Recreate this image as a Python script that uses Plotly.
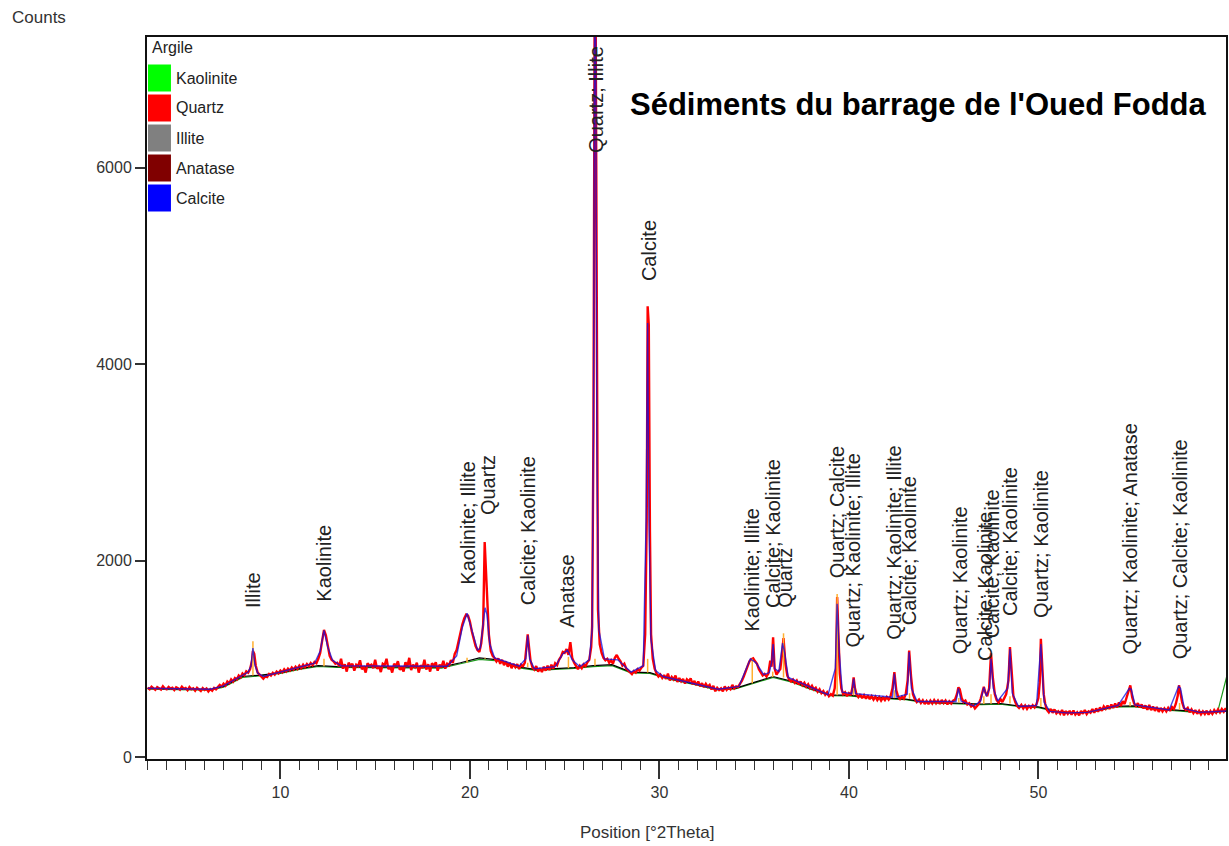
import plotly.graph_objects as go

# ---------------- data ----------------
# Measured diffractogram (red)
obs_2theta = [
    3.0, 3.1, 3.2, 3.3, 3.4, 3.5, 3.6, 3.7, 3.8, 3.9,
    4.0, 4.1, 4.2, 4.3, 4.4, 4.5, 4.6, 4.7, 4.8, 4.9,
    5.0, 5.1, 5.2, 5.3, 5.4, 5.5, 5.6, 5.7, 5.8, 5.9,
    6.0, 6.1, 6.2, 6.3, 6.4, 6.5, 6.6, 6.7, 6.8, 6.9,
    7.0, 7.1, 7.2, 7.3, 7.4, 7.5, 7.6, 7.7, 7.8, 7.9,
    8.0, 8.1, 8.2, 8.3, 8.4, 8.5, 8.55, 8.62, 8.7, 8.8,
    8.9, 9.0, 9.1, 9.2, 9.3, 9.4, 9.5, 9.6, 9.7, 9.8,
    9.9, 10.0, 10.1, 10.2, 10.3, 10.4, 10.5, 10.6, 10.7, 10.8,
    10.9, 11.0, 11.1, 11.2, 11.3, 11.4, 11.5, 11.6, 11.7, 11.8,
    11.9, 12.0, 12.1, 12.2, 12.3, 12.4, 12.5, 12.6, 12.7, 12.8,
    12.9, 13.0, 13.1, 13.2, 13.3, 13.4, 13.5, 13.6, 13.7, 13.8,
    13.9, 14.0, 14.1, 14.2, 14.3, 14.4, 14.5, 14.6, 14.7, 14.8,
    14.9, 15.0, 15.1, 15.2, 15.3, 15.4, 15.5, 15.6, 15.7, 15.8,
    15.9, 16.0, 16.1, 16.2, 16.3, 16.4, 16.5, 16.6, 16.7, 16.8,
    16.9, 17.0, 17.1, 17.2, 17.3, 17.4, 17.5, 17.6, 17.7, 17.8,
    17.9, 18.0, 18.1, 18.2, 18.3, 18.4, 18.5, 18.6, 18.7, 18.8,
    18.9, 19.0, 19.1, 19.2, 19.3, 19.4, 19.5, 19.6, 19.7, 19.8,
    19.9, 20.0, 20.1, 20.2, 20.3, 20.4, 20.5, 20.6, 20.7, 20.78,
    20.85, 20.92, 21.0, 21.1, 21.2, 21.3, 21.4, 21.5, 21.6, 21.7,
    21.8, 21.9, 22.0, 22.1, 22.2, 22.3, 22.4, 22.5, 22.6, 22.7,
    22.8, 22.9, 23.0, 23.05, 23.12, 23.2, 23.3, 23.4, 23.5, 23.6,
    23.7, 23.8, 23.9, 24.0, 24.1, 24.2, 24.3, 24.4, 24.5, 24.6,
    24.7, 24.8, 24.9, 25.0, 25.1, 25.2, 25.3, 25.4, 25.5, 25.6,
    25.7, 25.8, 25.9, 26.0, 26.1, 26.2, 26.3, 26.4, 26.45, 26.52,
    26.58, 26.64, 26.7, 26.76, 26.85, 26.95, 27.05, 27.15, 27.25, 27.35,
    27.45, 27.55, 27.65, 27.75, 27.85, 27.95, 28.05, 28.15, 28.25, 28.35,
    28.45, 28.55, 28.65, 28.75, 28.85, 28.95, 29.05, 29.15, 29.25, 29.33,
    29.38, 29.44, 29.5, 29.56, 29.65, 29.75, 29.85, 29.95, 30.05, 30.15,
    30.25, 30.35, 30.45, 30.55, 30.65, 30.75, 30.85, 30.95, 31.05, 31.15,
    31.25, 31.35, 31.45, 31.55, 31.65, 31.75, 31.85, 31.95, 32.05, 32.15,
    32.25, 32.35, 32.45, 32.55, 32.65, 32.75, 32.85, 32.95, 33.05, 33.15,
    33.25, 33.35, 33.45, 33.55, 33.65, 33.75, 33.85, 33.95, 34.05, 34.15,
    34.25, 34.35, 34.45, 34.55, 34.65, 34.75, 34.85, 34.95, 35.05, 35.15,
    35.25, 35.35, 35.45, 35.55, 35.65, 35.75, 35.85, 35.92, 36.0, 36.08,
    36.18, 36.28, 36.38, 36.45, 36.55, 36.65, 36.75, 36.85, 36.95, 37.05,
    37.15, 37.25, 37.35, 37.45, 37.55, 37.65, 37.75, 37.85, 37.95, 38.05,
    38.15, 38.25, 38.35, 38.45, 38.55, 38.65, 38.75, 38.85, 38.95, 39.05,
    39.15, 39.25, 39.32, 39.38, 39.45, 39.52, 39.6, 39.7, 39.8, 39.9,
    40.0, 40.1, 40.18, 40.25, 40.32, 40.4, 40.5, 40.6, 40.7, 40.8,
    40.9, 41.0, 41.1, 41.2, 41.3, 41.4, 41.5, 41.6, 41.7, 41.8,
    41.9, 42.0, 42.1, 42.2, 42.3, 42.4, 42.5, 42.6, 42.7, 42.8,
    42.9, 43.0, 43.1, 43.18, 43.28, 43.38, 43.48, 43.58, 43.7, 43.8,
    43.9, 44.0, 44.1, 44.2, 44.3, 44.4, 44.5, 44.6, 44.7, 44.8,
    44.9, 45.0, 45.1, 45.2, 45.3, 45.4, 45.5, 45.6, 45.7, 45.78,
    45.85, 45.95, 46.05, 46.15, 46.25, 46.35, 46.45, 46.55, 46.65, 46.75,
    46.85, 46.95, 47.05, 47.12, 47.2, 47.3, 47.4, 47.5, 47.6, 47.7,
    47.8, 47.9, 48.0, 48.1, 48.2, 48.3, 48.42, 48.5, 48.58, 48.68,
    48.78, 48.88, 48.98, 49.1, 49.2, 49.3, 49.4, 49.5, 49.6, 49.7,
    49.8, 49.9, 50.0, 50.07, 50.13, 50.2, 50.28, 50.36, 50.45, 50.55,
    50.65, 50.75, 50.85, 50.95, 51.05, 51.15, 51.25, 51.35, 51.45, 51.55,
    51.65, 51.75, 51.85, 51.95, 52.05, 52.15, 52.25, 52.35, 52.45, 52.55,
    52.65, 52.75, 52.85, 52.95, 53.05, 53.15, 53.25, 53.35, 53.45, 53.55,
    53.65, 53.75, 53.85, 53.95, 54.05, 54.15, 54.25, 54.35, 54.45, 54.55,
    54.65, 54.75, 54.85, 54.95, 55.05, 55.15, 55.25, 55.35, 55.45, 55.55,
    55.65, 55.75, 55.85, 55.95, 56.05, 56.15, 56.25, 56.35, 56.45, 56.55,
    56.65, 56.75, 56.85, 56.95, 57.05, 57.15, 57.25, 57.35, 57.42, 57.5,
    57.58, 57.68, 57.78, 57.88, 57.98, 58.08, 58.18, 58.28, 58.38, 58.48,
    58.58, 58.68, 58.78, 58.88, 58.98, 59.08, 59.18, 59.28, 59.38, 59.48,
    59.58, 59.68, 59.78, 59.88, 59.95,
]
obs_counts = [
    708, 690, 716, 695, 684, 712, 702, 688, 720, 698,
    690, 714, 696, 705, 682, 710, 700, 686, 716, 694,
    703, 680, 712, 690, 700, 676, 705, 688, 672, 702,
    684, 698, 668, 692, 676, 704, 690, 712, 735, 718,
    748, 728, 770, 752, 790, 768, 805, 790, 830, 812,
    850, 832, 872, 858, 895, 980, 1080, 1050, 930, 860,
    840, 820, 798, 822, 815, 845, 830, 858, 840, 870,
    852, 880, 862, 893, 870, 900, 880, 912, 890, 920,
    897, 930, 905, 940, 915, 948, 926, 958, 935, 968,
    955, 1000, 1060, 1180, 1295, 1240, 1110, 1030, 990, 975,
    950, 960, 925, 1000, 900, 945, 870, 960, 930, 950,
    880, 940, 925, 985, 895, 915, 860, 955, 930, 940,
    905, 990, 900, 925, 865, 950, 935, 1000, 895, 920,
    860, 950, 925, 975, 890, 910, 870, 965, 920, 1010,
    885, 940, 915, 960, 860, 935, 905, 990, 890, 945,
    870, 955, 930, 965, 880, 940, 915, 980, 900, 950,
    935, 985, 960, 1050, 1090, 1180, 1260, 1350, 1410, 1450,
    1440, 1380, 1280, 1200, 1130, 1090, 1070, 1160, 1350, 2190,
    1900, 1480, 1250, 1080, 1030, 1010, 975, 1005, 950, 990,
    935, 975, 920, 960, 905, 950, 915, 945, 895, 940,
    925, 960, 1120, 1250, 1120, 980, 915, 890, 925, 870,
    905, 865, 920, 880, 930, 885, 940, 900, 955, 935,
    990, 1020, 1070, 1060, 1100, 1040, 1170, 1010, 960, 925,
    895, 930, 905, 945, 925, 965, 990, 1120, 1330, 3300,
    7400, 7400, 3150, 1500, 1150, 1060, 1010, 985, 1000, 960,
    985, 950, 1010, 1040, 1000, 975, 930, 950, 900, 880,
    860, 845, 875, 860, 895, 880, 910, 930, 1250, 2400,
    4590, 4400, 2300, 1250, 1000, 900, 850, 820, 840, 805,
    835, 795, 850, 780, 815, 790, 830, 765, 805, 770,
    795, 748, 790, 770, 800, 740, 775, 730, 770, 720,
    752, 712, 745, 715, 735, 688, 725, 670, 705, 682,
    700, 668, 720, 685, 708, 690, 735, 698, 720, 712,
    745, 775, 820, 870, 925, 975, 995, 1005, 975, 950,
    895, 860, 830, 845, 820, 850, 980, 920, 1220, 900,
    840, 870, 895, 1010, 1210, 950, 830, 790, 770, 790,
    755, 780, 740, 770, 730, 755, 715, 740, 700, 725,
    688, 705, 665, 690, 650, 672, 635, 660, 620, 640,
    625, 700, 900, 1630, 1300, 850, 700, 640, 660, 620,
    650, 630, 700, 810, 700, 640, 610, 640, 600, 630,
    595, 628, 590, 620, 585, 615, 580, 610, 575, 605,
    580, 612, 585, 620, 700, 865, 680, 615, 590, 615,
    595, 640, 780, 1085, 820, 640, 590, 560, 585, 550,
    578, 540, 570, 538, 575, 545, 580, 548, 575, 540,
    582, 550, 575, 535, 568, 545, 575, 585, 640, 710,
    690, 600, 560, 575, 535, 548, 515, 530, 495, 520,
    540, 590, 650, 715, 660, 620, 700, 1055, 800, 640,
    580, 555, 590, 560, 600, 640, 780, 1120, 900, 620,
    560, 520, 500, 530, 495, 525, 490, 520, 500, 528,
    505, 540, 600, 760, 1205, 900, 640, 540, 480, 455,
    490, 450, 485, 445, 465, 440, 480, 425, 468, 440,
    470, 430, 475, 432, 455, 425, 470, 440, 480, 438,
    465, 452, 490, 450, 495, 462, 505, 470, 515, 490,
    525, 490, 535, 500, 545, 505, 555, 520, 570, 540,
    600, 680, 730, 610, 545, 520, 548, 505, 535, 495,
    525, 480, 530, 478, 515, 470, 510, 460, 500, 465,
    495, 465, 500, 470, 510, 490, 540, 620, 730, 650,
    560, 500, 480, 500, 455, 485, 448, 478, 440, 470,
    435, 465, 438, 472, 430, 468, 440, 478, 450, 485,
    455, 490, 462, 495, 470,
]

# Calculated profile (blue)
calc_2theta = [
    3.0, 6.3, 7.0, 8.0, 8.3, 8.45, 8.55, 8.65, 8.8, 9.1,
    10.0, 11.0, 11.8, 12.1, 12.3, 12.5, 12.75, 13.2, 18.8, 19.3,
    19.6, 19.85, 20.1, 20.4, 20.55, 20.72, 20.8, 20.9, 21.05, 21.3,
    22.6, 22.95, 23.05, 23.15, 23.4, 24.5, 24.9, 25.15, 25.4, 25.8,
    26.3, 26.45, 26.52, 26.58, 26.64, 26.7, 26.8, 27.1, 27.8, 28.5,
    29.15, 29.3, 29.38, 29.45, 29.55, 29.8, 30.2, 33.1, 34.2, 34.8,
    35.1, 35.5, 35.8, 35.92, 36.0, 36.08, 36.3, 36.5, 36.62, 36.8,
    37.5, 38.9, 39.28, 39.38, 39.48, 39.65, 40.15, 40.25, 40.35, 42.3,
    42.4, 42.5, 43.08, 43.18, 43.3, 43.6, 45.65, 45.78, 45.92, 46.6,
    46.95, 47.12, 47.25, 47.42, 47.5, 47.62, 47.85, 48.38, 48.5, 48.62,
    48.95, 49.9, 50.13, 50.3, 50.6, 51.5, 52.6, 54.2, 54.8, 54.9,
    55.1, 56.9, 57.4, 57.5, 57.7, 58.5, 59.95,
]
calc_counts = [
    700, 690, 725, 835, 865, 930, 1110, 940, 855, 820,
    865, 910, 955, 1080, 1290, 1120, 985, 930, 925, 1030,
    1320, 1465, 1300, 1090, 1110, 1420, 1520, 1450, 1150, 1010,
    925, 1000, 1240, 1000, 900, 920, 1050, 1090, 990, 920,
    990, 1300, 3360, 7400, 7300, 3150, 1300, 1000, 990, 865,
    930, 2450, 4420, 2400, 1200, 880, 820, 690, 720, 1000,
    960, 840, 860, 960, 1150, 900, 870, 1160, 1050, 810,
    750, 635, 900, 1560, 1100, 660, 645, 800, 645, 610,
    850, 610, 640, 1070, 700, 565, 565, 700, 570, 520,
    570, 710, 620, 700, 1000, 700, 570, 700, 1100, 650,
    515, 525, 1150, 560, 465, 450, 455, 525, 700, 690,
    530, 480, 720, 700, 495, 455, 470,
]

# Fitted background (black) and auxiliary curve (green)
bg_2theta = [3.0, 6.3, 7.0, 8.0, 9.0, 10.0, 11.0, 12.0, 13.0, 18.5, 19.5, 20.5, 21.5, 22.5, 23.5, 24.5, 25.5, 26.5, 27.5, 28.5,
             29.5, 30.5, 32.0, 33.0, 34.0, 35.0, 36.0, 37.0, 38.0, 39.0, 40.0, 41.0, 42.0, 43.0, 44.0, 45.0, 46.0, 47.0, 48.0, 49.0,
             50.0, 51.0, 52.0, 53.0, 54.0, 55.0, 56.0, 57.0, 58.0, 59.0, 59.95]
bg_counts = [700, 688, 720, 820, 835, 860, 900, 930, 920, 915, 960, 1010, 990, 920, 890, 900, 910, 930, 940, 865,
             860, 800, 740, 690, 700, 760, 820, 770, 695, 630, 630, 610, 600, 590, 560, 555, 545, 540, 545, 520,
             510, 465, 450, 470, 515, 520, 495, 480, 465, 455, 465]
aux_2theta = [3.0, 6.3, 7.0, 8.0, 9.0, 10.0, 11.0, 12.0, 13.0, 18.5, 19.5, 20.5, 21.5, 22.5, 23.5, 24.5, 25.5, 26.5, 27.5, 28.5,
              29.5, 30.5, 32.0, 33.0, 34.0, 35.0, 36.0, 37.0, 38.0, 39.0, 40.0, 41.0, 42.0, 43.0, 44.0, 45.0, 46.0, 47.0, 48.0, 49.0,
              50.0, 51.0, 52.0, 53.0, 54.0, 55.0, 56.0, 57.0, 58.0, 59.0, 59.45, 59.7, 59.95]
aux_counts = [692, 682, 712, 810, 828, 852, 892, 922, 912, 906, 950, 995, 978, 910, 882, 892, 902, 920, 930, 858,
              852, 792, 732, 684, 694, 752, 810, 762, 688, 624, 622, 604, 594, 584, 554, 548, 540, 534, 538, 514,
              504, 460, 445, 464, 508, 514, 490, 474, 460, 450, 455, 640, 830]

# Reference line positions (orange sticks): position, base, top
stick_pos = [8.55, 12.3, 19.85, 20.8, 23.05, 25.2, 26.6, 29.38, 34.9, 35.98, 36.55, 39.38, 40.25, 42.4, 43.2, 45.8, 47.12, 47.5,
             48.5, 50.13, 54.84, 57.45]
stick_base = [830, 925, 960, 1000, 915, 905, 930, 860, 750, 815, 810, 630, 628, 600, 592, 555, 540, 542, 545, 510, 518, 480]
stick_top = [1180, 1000, 1010, 1010, 960, 1020, 1000, 1000, 1000, 870, 1260, 1660, 700, 680, 650, 600, 620, 640, 620, 600, 560, 550]

# Phase identifications written above the peaks
label_pos = [8.55, 12.29, 19.92, 20.92, 23.06, 25.08, 26.62, 29.43, 34.87, 35.97, 36.62, 39.38, 40.22, 42.41, 43.17,
             45.84, 47.15, 47.54, 48.47, 50.13, 54.84, 57.45]
label_base = [1497, 1565, 1734, 2447, 1530, 1293, 6130, 4827, 1259, 1497, 1497, 1802, 1090, 1174, 1327,
              1021, 957, 1191, 1415, 1395, 1021, 970]
label_text = ["Illite", "Kaolinite", "Kaolinite; Illite", "Quartz", "Calcite; Kaolinite", "Anatase", "Quartz; Illite",
              "Calcite", "Kaolinite; Illite", "Calcite; Kaolinite", "Quartz", "Quartz; Calcite",
              "Quartz; Kaolinite; Illite", "Quartz; Kaolinite; Illite", "Calcite; Kaolinite", "Quartz; Kaolinite",
              "Calcite; Kaolinite", "Calcite; Kaolinite", "Calcite; Kaolinite", "Quartz; Kaolinite",
              "Quartz; Kaolinite; Anatase", "Quartz; Calcite; Kaolinite"]

# Phase key
phase_names = ["Kaolinite", "Quartz", "Illite", "Anatase", "Calcite"]
phase_colors = ["#00FF00", "#FF0000", "#808080", "#800000", "#0000FF"]

assert len(obs_2theta) == len(obs_counts)
assert len(calc_2theta) == len(calc_counts)
assert len(aux_2theta) == len(aux_counts)

# ---------------- figure ----------------
W, H = 1229, 846
L, R, T, B = 147, 1228, 37, 759
FONT = "Liberation Sans, Arial, sans-serif"


def px(x):
    return (x - L) / (R - L)


def py(y):
    return (B - y) / (B - T)


fig = go.Figure()

fig.add_trace(go.Scatter(x=aux_2theta, y=aux_counts, mode="lines",
                         line=dict(color="#1a9a1a", width=1.2), hoverinfo="skip"))
fig.add_trace(go.Scatter(x=bg_2theta, y=bg_counts, mode="lines",
                         line=dict(color="#000000", width=1.2), hoverinfo="skip"))
fig.add_trace(go.Scatter(x=obs_2theta, y=obs_counts, mode="lines",
                         line=dict(color="#FF0000", width=2.4), hoverinfo="skip"))

sx, sy = [], []
for p, b0, t0 in zip(stick_pos, stick_base, stick_top):
    sx += [p, p, None]
    sy += [b0, t0, None]
fig.add_trace(go.Scatter(x=sx, y=sy, mode="lines",
                         line=dict(color="#FFB030", width=1.5), hoverinfo="skip"))

fig.add_trace(go.Scatter(x=calc_2theta, y=calc_counts, mode="lines", opacity=0.75,
                         line=dict(color="#1010E0", width=1.4), hoverinfo="skip"))

annotations = []
for xp, yb, txt in zip(label_pos, label_base, label_text):
    annotations.append(dict(x=xp, y=yb, xref="x", yref="y", text=txt, textangle=-90,
                            showarrow=False, xanchor="center", yanchor="bottom",
                            font=dict(family=FONT, size=20, color="#222222")))

# Phase key drawn in the upper-left corner of the plot
shapes = []
annotations.append(dict(x=px(150), y=py(48), xref="paper", yref="paper", text="Argile",
                        showarrow=False, xanchor="left", yanchor="middle",
                        font=dict(family=FONT, size=16, color="#222222")))
for i, (name, col) in enumerate(zip(phase_names, phase_colors)):
    cy = 78 + 30 * i
    shapes.append(dict(type="rect", xref="paper", yref="paper",
                       x0=px(148), x1=px(171), y0=py(cy + 13.5), y1=py(cy - 13.5),
                       fillcolor=col, line=dict(width=0)))
    annotations.append(dict(x=px(174), y=py(cy), xref="paper", yref="paper", text=name,
                            showarrow=False, xanchor="left", yanchor="middle",
                            font=dict(family=FONT, size=16, color="#222222")))

annotations.append(dict(x=px(920), y=py(104), xref="paper", yref="paper",
                        text="<b>Sédiments du barrage de l'Oued Fodda</b>",
                        showarrow=False, xanchor="center", yanchor="middle",
                        font=dict(family=FONT, size=31, color="#000000")))
annotations.append(dict(x=px(10), y=py(18), xref="paper", yref="paper", text="Counts",
                        showarrow=False, xanchor="left", yanchor="middle",
                        font=dict(family=FONT, size=17, color="#333333")))
annotations.append(dict(x=px(648), y=py(833), xref="paper", yref="paper", text="Position [°2Theta]",
                        showarrow=False, xanchor="center", yanchor="middle",
                        font=dict(family=FONT, size=17, color="#333333")))

fig.update_layout(
    width=W, height=H,
    margin=dict(l=L, r=W - R, t=T, b=H - B, pad=0),
    paper_bgcolor="white", plot_bgcolor="white",
    showlegend=False,
    annotations=annotations,
    shapes=shapes,
)
fig.update_xaxes(
    range=[2.96, 59.9], showgrid=False, zeroline=False,
    showline=True, linecolor="#111111", linewidth=2, mirror=True,
    tickmode="linear", tick0=0, dtick=10,
    ticks="outside", ticklen=18, tickwidth=1.5, tickcolor="#333333",
    minor=dict(ticks="outside", ticklen=9, tickwidth=1.2, tickcolor="#333333", dtick=1, tick0=0, showgrid=False),
    tickfont=dict(family=FONT, size=16, color="#333333"),
)
fig.update_yaxes(
    range=[-20, 7332], showgrid=False, zeroline=False,
    showline=True, linecolor="#111111", linewidth=2, mirror=True,
    tickmode="array", tickvals=[0, 2000, 4000, 6000],
    ticks="outside", ticklen=10, tickwidth=1.5, tickcolor="#333333",
    tickfont=dict(family=FONT, size=16, color="#333333"),
)

fig.write_html("out.html")
